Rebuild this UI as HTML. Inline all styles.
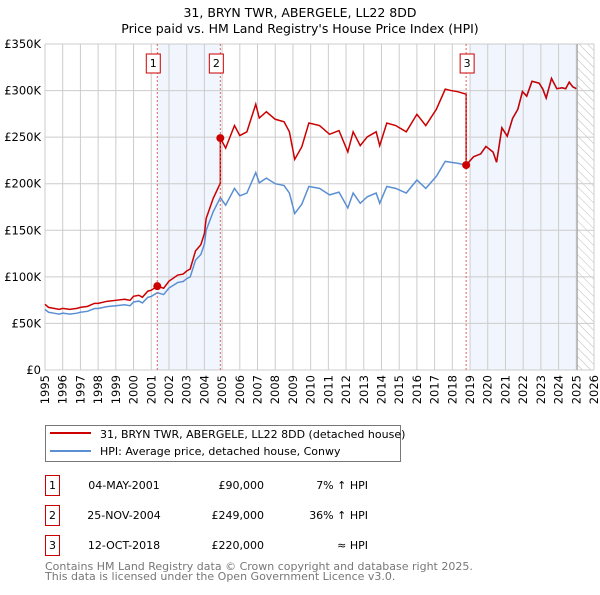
<!DOCTYPE html>
<html><head><meta charset="utf-8"><style>
body{margin:0;background:#fff;font-family:"Liberation Sans","DejaVu Sans",sans-serif}
</style></head><body>
<svg width="600" height="590" viewBox="0 0 600 590" xmlns="http://www.w3.org/2000/svg" font-family="DejaVu Sans, Liberation Sans, sans-serif">
<text x="300" y="17" text-anchor="middle" font-size="12.5">31, BRYN TWR, ABERGELE, LL22 8DD</text>
<text x="300" y="33" text-anchor="middle" font-size="12.5">Price paid vs. HM Land Registry's House Price Index (HPI)</text>
<defs><pattern id="hatch" width="6" height="6" patternUnits="userSpaceOnUse" patternTransform="rotate(-45)"><line x1="0" y1="0" x2="0" y2="6" stroke="#bbb" stroke-width="1"/></pattern></defs>
<g id="shades"></g>
<g id="grid"></g>
<g id="lines"></g>
<g id="markers"></g>
<g id="axes"></g>
<g>
<rect x="45.5" y="425.5" width="355" height="36" fill="#fff" stroke="#777"/>
<line x1="50" y1="433" x2="91" y2="433" stroke="#cc0000" stroke-width="2"/>
<text x="100" y="438" font-size="11">31, BRYN TWR, ABERGELE, LL22 8DD (detached house)</text>
<line x1="50" y1="451" x2="91" y2="451" stroke="#5b8fd4" stroke-width="2"/>
<text x="100" y="455" font-size="11">HPI: Average price, detached house, Conwy</text>
</g>
<g font-size="11">
<rect x="45.5" y="475.5" width="14" height="20" fill="#fff" stroke="#cc0000"/><text x="52.5" y="489" text-anchor="middle">1</text>
<text x="124" y="489" text-anchor="middle">04-MAY-2001</text><text x="264" y="489" text-anchor="end">£90,000</text><text x="368" y="489" text-anchor="end">7% ↑ HPI</text>
<rect x="45.5" y="505.5" width="14" height="20" fill="#fff" stroke="#cc0000"/><text x="52.5" y="519" text-anchor="middle">2</text>
<text x="124" y="519" text-anchor="middle">25-NOV-2004</text><text x="264" y="519" text-anchor="end">£249,000</text><text x="368" y="519" text-anchor="end">36% ↑ HPI</text>
<rect x="45.5" y="535.5" width="14" height="20" fill="#fff" stroke="#cc0000"/><text x="52.5" y="549" text-anchor="middle">3</text>
<text x="124" y="549" text-anchor="middle">12-OCT-2018</text><text x="264" y="549" text-anchor="end">£220,000</text><text x="368" y="549" text-anchor="end">≈ HPI</text>
</g>
<text x="45" y="570" font-size="11" fill="#777">Contains HM Land Registry data © Crown copyright and database right 2025.</text>
<text x="45" y="580" font-size="11" fill="#777">This data is licensed under the Open Government Licence v3.0.</text>
</svg>
<script>
const hpiYears=[1995,1995.2,1995.5,1995.8,1996,1996.4,1996.8,1997,1997.4,1997.8,1998,1998.5,1999,1999.5,1999.8,2000,2000.3,2000.5,2000.8,2001,2001.34,2001.7,2002,2002.5,2002.8,2003,2003.2,2003.5,2003.8,2004,2004.1,2004.5,2004.9,2005.2,2005.7,2006,2006.4,2006.9,2007.1,2007.5,2008,2008.5,2008.8,2009.1,2009.5,2009.9,2010.5,2011.07,2011.6,2012.1,2012.4,2012.8,2013.2,2013.7,2013.9,2014.3,2014.8,2015.4,2016.0,2016.5,2017.1,2017.6,2017.9,2018.3,2018.78,2019.2,2019.6,2019.9,2020.3,2020.5,2020.8,2021.1,2021.4,2021.7,2021.96,2022.2,2022.5,2022.9,2023.1,2023.3,2023.6,2023.9,2024.2,2024.4,2024.6,2024.8,2025.0];
const hpiValues=[65,62,61,60,61,60,61,62,63,66,66,68,69,70,69,73,74,72,78,79,83,81,88,94,95,98,100,118,124,135,150,170,185,177,195,187,190,212,201,206,200,198,190,168,178,197,195,188,191,174,190,179,186,190,179,197,195,190,204,195,208,224,223,222,220,229,232,240,234,223,260,251,270,280,299,294,310,308,302,292,313,302,303,302,309,304,302];
const saleYears=[2001.34,2004.9,2018.78];
const salePrices=[90,249,220];
const yTickValues=[0,50,100,150,200,250,300,350];
const yTickLabels=["£0","£50K","£100K","£150K","£200K","£250K","£300K","£350K"];
const xTickYears=[1995,1996,1997,1998,1999,2000,2001,2002,2003,2004,2005,2006,2007,2008,2009,2010,2011,2012,2013,2014,2015,2016,2017,2018,2019,2020,2021,2022,2023,2024,2025,2026];

const NS="http://www.w3.org/2000/svg";
const L=45,R=594,T=44,B=370;
const xs=y=>L+(y-1995)/(2026-1995)*(R-L);
const ys=v=>B-v/350*(B-T);
function mk(tag,attrs,parent){const e=document.createElementNS(NS,tag);for(const k in attrs)e.setAttribute(k,attrs[k]);document.getElementById(parent).appendChild(e);return e;}
function hpiAt(t){for(let i=1;i<hpiYears.length;i++){if(t<=hpiYears[i]){const f=(t-hpiYears[i-1])/(hpiYears[i]-hpiYears[i-1]);return hpiValues[i-1]+f*(hpiValues[i]-hpiValues[i-1]);}}return hpiValues[hpiValues.length-1];}

let s1=mk('rect',{x:xs(saleYears[0]),y:T,width:xs(saleYears[1])-xs(saleYears[0]),height:B-T,fill:'#eef3fc',opacity:0.8},'shades');


let s2=mk('rect',{x:xs(2019.0),y:T,width:xs(2025.05)-xs(2019.0),height:B-T,fill:'#eef3fc',opacity:0.8},'shades');


let h=mk('rect',{x:xs(2025.05),y:T,width:R-xs(2025.05),height:B-T,fill:'url(#hatch)'},'shades');



yTickValues.forEach((v,i)=>{
 let g=mk('line',{x1:L,x2:R,y1:ys(v),y2:ys(v),stroke:'#ccc','stroke-width':1},'grid');
 
 
 let t=mk('text',{x:L-4,y:ys(v)+4,'text-anchor':'end','font-size':11.5},'axes');
 
 
 t.textContent=yTickLabels[i];
});
xTickYears.forEach(y=>{
 let g=mk('line',{x1:xs(y),x2:xs(y),y1:T,y2:B,stroke:'#ccc','stroke-width':1},'grid');
 
 
 let t=mk('text',{x:0,y:0,'text-anchor':'end','font-size':11.5,transform:`translate(${xs(y)+4},${B+5}) rotate(-90)`},'axes');
 
 
 t.textContent=y;
});
let fr=mk('line',{x1:xs(2025.05),x2:xs(2025.05),y1:T,y2:B,stroke:'#999','stroke-width':1},'grid');



let hp=mk('polyline',{points:hpiYears.map((y,i)=>xs(y)+','+ys(hpiValues[i])).join(' '),fill:'none',stroke:'#5b8fd4','stroke-width':1.5},'lines');



const ratios=saleYears.map((y,i)=>salePrices[i]/hpiAt(y));
let pts=[];
hpiYears.forEach((y,i)=>{
 let k=0;for(let j=0;j<saleYears.length;j++)if(y>=saleYears[j])k=j;
 saleYears.forEach((sy,j)=>{if(j>0&&pts.length&&hpiYears[i-1]<sy&&y>=sy){pts.push([sy,hpiAt(sy)*ratios[j-1]]);pts.push([sy,salePrices[j]]);}});
 pts.push([y,hpiValues[i]*ratios[k]]);
});
let rl=mk('polyline',{points:pts.map(p=>xs(p[0])+','+ys(p[1])).join(' '),fill:'none',stroke:'#cc0000','stroke-width':1.5},'lines');



saleYears.forEach((y,i)=>{
 let d=mk('line',{x1:xs(y),x2:xs(y),y1:T,y2:B,stroke:'#e06060','stroke-width':1,'stroke-dasharray':'2,2'},'markers');
 
 
 let c=mk('circle',{cx:xs(y),cy:ys(salePrices[i]),r:4,fill:'#cc0000'},'markers');
 
 
 let b=mk('rect',{x:xs(y)-7-(i<2?4:-1),y:54,width:14,height:19,fill:'#fff',stroke:'#cc0000'},'markers');
 
 
 let t=mk('text',{x:xs(y)-(i<2?4:-1),y:67,'text-anchor':'middle','font-size':11},'markers');
 
 
 t.textContent=i+1;
});
</script>
</body></html>
